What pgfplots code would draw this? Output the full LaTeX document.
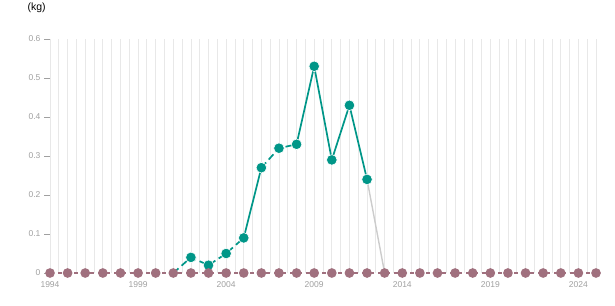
\documentclass[border=0pt]{standalone}
\usepackage{fontspec}
\setmainfont{Liberation Sans}
\usepackage{pgfplots}
\pgfplotsset{compat=1.18}
\definecolor{tealc}{HTML}{009688}
\definecolor{mauve}{HTML}{A0707E}
\definecolor{gridc}{HTML}{E8E8E8}
\definecolor{tickc}{HTML}{A0A0A0}
\definecolor{greyl}{HTML}{CCCCCC}
\begin{document}
\begin{tikzpicture}[x=1pt,y=1pt]
\path[use as bounding box] (0,0) rectangle (615,305);
\node[anchor=west, font=\fontsize{10.5}{12}\selectfont] at (24,297) {(kg)};
\begin{axis}[at={(50pt,32pt)}, anchor=south west, scale only axis,
  width=546pt, height=234pt,
  xmin=1994, xmax=2025, ymin=0, ymax=0.6,
  clip=false,
  axis line style={draw=none},
  xtick={1994,1999,...,2024},
  extra x ticks={1994,1994.5,...,2025},
  extra x tick labels={},
  extra x tick style={grid=major, tick style={draw=none}},
  grid style={gridc, line width=0.8pt},
  xtick style={draw=none},
  x tick label style={/pgf/number format/1000 sep={}, text=tickc, yshift=1pt},
  ytick={0,0.1,...,0.6},
  ytick pos=left,
  xtick pos=bottom,
  ytick style={tickc, line width=0.6pt},
  tick align=outside,
  major tick length=6pt,
  y tick label style={text=tickc},
  /pgf/number format/assume math mode=true,
  tick label style={font=\fontsize{8.5}{10}\selectfont},
]
% teal series segments
\addplot[tealc, line width=1.7pt, dash pattern=on 7pt off 4pt] coordinates {(2001,0) (2002,0.04) (2003,0.02) (2004,0.05) (2005,0.09)};
\addplot[tealc, line width=1.7pt] coordinates {(2005,0.09) (2006,0.27)};
\addplot[tealc, line width=1.7pt, dash pattern=on 7pt off 4pt] coordinates {(2006,0.27) (2007,0.32) (2008,0.33)};
\addplot[tealc, line width=1.7pt] coordinates {(2008,0.33) (2009,0.53) (2010,0.29) (2011,0.43) (2012,0.24)};
\addplot[greyl, line width=1.4pt] coordinates {(2012,0.24) (2013,0)};
\addplot[only marks, mark=*, mark size=5.3pt, mark options={fill=tealc, draw=white, line width=0.6pt}] coordinates {
(2002,0.04) (2003,0.02) (2004,0.05) (2005,0.09) (2006,0.27) (2007,0.32) (2008,0.33) (2009,0.53) (2010,0.29) (2011,0.43) (2012,0.24)};
% mauve series
\addplot[mauve, line width=1.2pt, dash pattern=on 4pt off 4pt, mark=*, mark size=4.2pt, mark options={solid, fill=mauve, draw=none}] coordinates {
(1994,0) (1995,0) (1996,0) (1997,0) (1998,0) (1999,0) (2000,0) (2001,0) (2002,0) (2003,0) (2004,0) (2005,0) (2006,0) (2007,0) (2008,0) (2009,0) (2010,0) (2011,0) (2012,0) (2013,0) (2014,0) (2015,0) (2016,0) (2017,0) (2018,0) (2019,0) (2020,0) (2021,0) (2022,0) (2023,0) (2024,0) (2025,0)};
\end{axis}
\end{tikzpicture}
\end{document}
